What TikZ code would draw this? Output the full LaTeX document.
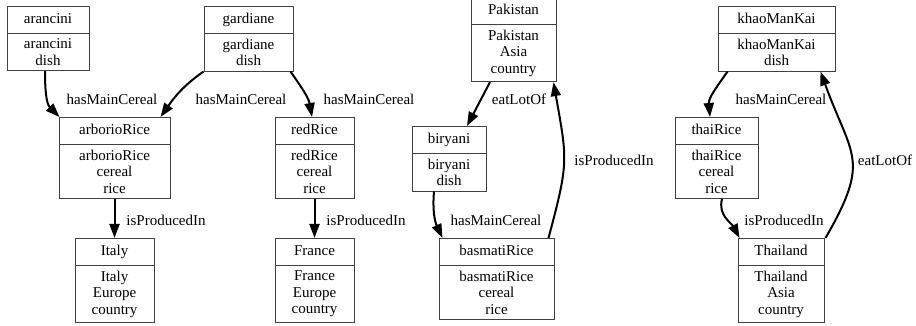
\documentclass[tikz,border=0pt]{standalone}
\usepackage{fontspec}
\setmainfont{Liberation Serif}
\usetikzlibrary{shapes.multipart}
\usetikzlibrary{arrows.meta}

\tikzset{
  record/.style={rectangle split, rectangle split parts=2, draw=black!75, line width=1pt,
    align=center, anchor=north, inner xsep=2pt, inner ysep=4.75pt,
    text height=11.55pt, text depth=4.95pt},
  rel/.style={->, line width=2pt},
  lbl/.style={inner sep=0pt}
}

\begin{document}
\begin{tikzpicture}[x=1pt, y=1pt, >={Triangle[length=14pt,width=10pt]}, font=\fontsize{15}{16.5}\selectfont]
    \useasboundingbox (0,0) rectangle (916,326);
    % dishes and cereals
    \node(arancini)[record, minimum width=82pt] at (48,320) {arancini \nodepart{two} arancini\\dish};
    \node(gardiane)[record, minimum width=89pt] at (248.5,320) {gardiane \nodepart{two} gardiane\\dish};
    \node(arborioRice)[record, minimum width=111pt] at (114.5,209) {arborioRice \nodepart{two} arborioRice\\cereal\\rice};
    \node(redRice)[record, minimum width=79pt] at (314.5,209) {redRice \nodepart{two} redRice\\cereal\\rice};
    \node(Italy)[record, minimum width=79pt] at (114.5,88) {Italy \nodepart{two} Italy\\Europe\\country};
    \node(France)[record, minimum width=79pt] at (314.5,88) {France \nodepart{two} France\\Europe\\country};
    \node(Pakistan)[record, minimum width=85pt] at (513.5,329) {Pakistan \nodepart{two} Pakistan\\Asia\\country};
    \node(biryani)[record, minimum width=74pt] at (449,200) {biryani \nodepart{two} biryani\\dish};
    \node(basmatiRice)[record, minimum width=115pt] at (496.5,88) {basmatiRice \nodepart{two} basmatiRice\\cereal\\rice};
    \node(khaoManKai)[record, minimum width=117pt] at (776.5,320) {khaoManKai \nodepart{two} khaoManKai\\dish};
    \node(thaiRice)[record, minimum width=83pt] at (716.5,209) {thaiRice \nodepart{two} thaiRice\\cereal\\rice};
    \node(Thailand)[record, minimum width=86pt] at (781,88) {Thailand \nodepart{two} Thailand\\Asia\\country};

    % relations
    \draw[rel] ([xshift=-3pt]arancini.south) to[out=-90, in=135] ([xshift=1pt]arborioRice.north west) node[lbl] (l1) at (112,227) {hasMainCereal};
    \draw[rel] (gardiane.south west) to[out=-145, in=55] ([xshift=-10pt]arborioRice.north east) node[lbl] (l2) at (241,227) {hasMainCereal};
    \draw[rel] ([xshift=-3pt]gardiane.south east) to[out=-55, in=100] ([xshift=-2.5pt]redRice.north) node[lbl] (l3) at (369,227) {hasMainCereal};
    \draw[rel] (arborioRice.south)--(Italy.north) node[lbl] (l4) at (166,106) {isProducedIn};
    \draw[rel] (redRice.south)--(France.north) node[lbl] (l5) at (366,106) {isProducedIn};
    \draw[rel] ([xshift=-23.5pt]Pakistan.south)--([xshift=18pt]biryani.north) node[lbl] (l6) at (519,227) {eatLotOf};
    \draw[rel] ([xshift=-15pt]biryani.south) to[out=-95, in=115] ([xshift=4pt]basmatiRice.north west) node[lbl] (l7) at (496,106) {hasMainCereal};
    \draw[rel] ([xshift=-6pt]basmatiRice.north east) to[out=75, in=-80, looseness=1.3] ([xshift=-3pt]Pakistan.south east) node[lbl] (l8) at (614,166) {isProducedIn};
    \draw[rel] ([xshift=10pt]khaoManKai.south west) to[out=-125, in=95] ([xshift=-6.5pt]thaiRice.north) node[lbl] (l9) at (781,227) {hasMainCereal};
    \draw[rel] ([xshift=5.5pt]thaiRice.south) to[out=-105, in=118] ([xshift=2pt]Thailand.north west) node[lbl] (l10) at (784,106) {isProducedIn};
    \draw[rel] ([xshift=1pt]Thailand.north east) to[out=60, in=-70, looseness=1.4] ([xshift=-15pt]khaoManKai.south east) node[lbl] (l11) at (885,166) {eatLotOf};
\end{tikzpicture}
\end{document}
